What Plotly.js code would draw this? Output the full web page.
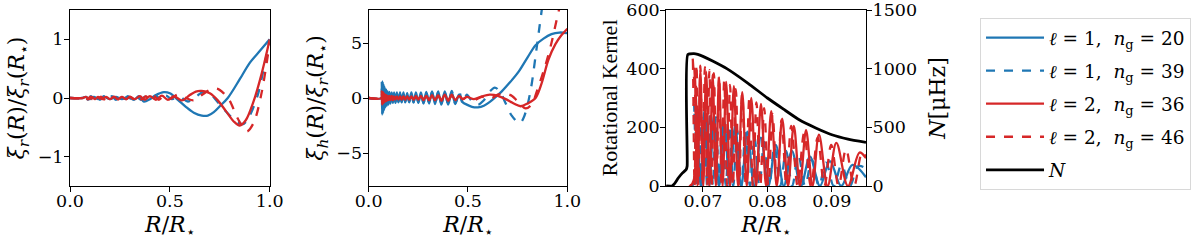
<!DOCTYPE html>
<html><head><meta charset="utf-8">
<script src="https://cdn.plot.ly/plotly-3.0.1.min.js"></script>
<style>html,body{margin:0;padding:0;background:#fff;overflow:hidden;width:1200px;height:242px;}#chart{width:1200px;height:242px;overflow:hidden;}</style>
</head><body><div id="chart"></div>
<script>
// ---------- Panel 1: xi_r(R)/xi_r(R*) ----------
const xr_l1n20_R = [0,0.06,0.08,0.10,0.12,0.14,0.17,0.20,0.23,0.26,0.29,0.32,0.345,0.37,0.40,0.43,0.47,0.50,0.54,0.58,0.62,0.66,0.69,0.72,0.75,0.79,0.85,0.90,0.95,1.0];
const xr_l1n20_V = [0,0.0,0.02,-0.02,0.02,-0.02,0.02,-0.02,0.02,-0.02,0.02,-0.03,0.03,-0.06,-0.02,0.05,0.1,0.08,-0.03,-0.15,-0.25,-0.3,-0.3,-0.24,-0.14,0.0,0.32,0.6,0.8,1.0];

const xr_l1n39_R = [0,0.06,0.075,0.09,0.105,0.12,0.135,0.15,0.17,0.19,0.21,0.23,0.25,0.27,0.29,0.31,0.33,0.355,0.38,0.405,0.43,0.455,0.48,0.51,0.55,0.59,0.63,0.665,0.70,0.73,0.76,0.80,0.84,0.87,0.90,0.94,0.97,1.0];
const xr_l1n39_V = [0,0,0.03,-0.03,0.03,-0.03,0.03,-0.03,0.03,-0.03,0.03,-0.03,0.03,-0.03,0.03,-0.03,0.03,-0.03,0.03,-0.03,0.04,-0.03,0.04,-0.02,0.02,-0.06,0.02,0.1,0.08,-0.03,-0.15,-0.3,-0.42,-0.44,-0.3,0.05,0.5,1.0];

const xr_l2n36_R = [0,0.065,0.08,0.095,0.11,0.125,0.14,0.16,0.18,0.20,0.22,0.24,0.26,0.28,0.30,0.325,0.35,0.375,0.40,0.43,0.46,0.49,0.52,0.56,0.60,0.63,0.66,0.70,0.74,0.78,0.82,0.85,0.88,0.92,0.96,1.0];
const xr_l2n36_V = [0,0,0.02,-0.02,0.02,-0.02,0.02,-0.02,0.02,-0.02,0.02,-0.02,0.02,-0.02,0.02,-0.02,0.03,-0.03,0.03,-0.03,0.04,-0.03,0.03,-0.04,0.05,0.11,0.12,0.08,-0.04,-0.22,-0.4,-0.47,-0.38,-0.05,0.42,1.0];

const xr_l2n46_R = [0,0.065,0.077,0.089,0.101,0.113,0.125,0.14,0.155,0.17,0.185,0.20,0.22,0.24,0.26,0.28,0.30,0.32,0.34,0.36,0.38,0.40,0.42,0.445,0.47,0.50,0.54,0.58,0.62,0.66,0.70,0.735,0.77,0.80,0.84,0.885,0.92,0.96,1.0];
const xr_l2n46_V = [0,0,0.025,-0.025,0.025,-0.025,0.025,-0.025,0.025,-0.025,0.025,-0.025,0.025,-0.025,0.025,-0.025,0.025,-0.025,0.025,-0.025,0.03,-0.03,0.03,-0.03,0.03,-0.02,0.06,0.0,-0.04,0.05,0.14,0.16,0.08,-0.05,-0.35,-0.57,-0.42,0.1,0.95];

// ---------- Panel 2: xi_h(R)/xi_r(R*) ----------
const xh_innerR = [0.000,0.064,0.066,0.068,0.070,0.072,0.074,0.076,0.078,0.080,0.083,0.086,0.089,0.092,0.096,0.100,0.105,0.110,0.116,0.122,0.128,0.135,0.142,0.150,0.158,0.166,0.175,0.184,0.194,0.204,0.215,0.226,0.238,0.250,0.263,0.276,0.290,0.304,0.319,0.334,0.350,0.366,0.383,0.400,0.418,0.436,0.455,0.474,0.494];

const xh_l1n20_innerV = [0,0,1.4,-1.5,1.5,-1.4,1.3,-1.2,1.1,-1.0,0.9,-0.8,0.75,-0.7,0.6,-0.6,0.55,-0.5,0.5,-0.45,0.5,-0.45,0.5,-0.4,0.5,-0.4,0.5,-0.4,0.45,-0.4,0.5,-0.4,0.5,-0.45,0.5,-0.5,0.55,-0.5,0.6,-0.55,0.6,-0.6,0.6,-0.6,0.5,-0.5,0.3,-0.4,-0.6];
const xh_l1n20_outerR = [0.52,0.55,0.58,0.61,0.64,0.67,0.71,0.755,0.80,0.84,0.88,0.92,0.96,1.0];
const xh_l1n20_outerV = [-0.8,-0.85,-0.7,-0.35,0.1,0.6,1.4,2.4,3.7,4.8,5.4,5.8,5.95,5.9];

const xh_l1n39_innerV = [0,0,0.8,-0.9,0.9,-0.8,0.8,-0.7,0.7,-0.6,0.6,-0.5,0.5,-0.45,0.45,-0.4,0.4,-0.35,0.4,-0.35,0.4,-0.35,0.4,-0.35,0.4,-0.35,0.4,-0.35,0.4,-0.35,0.4,-0.4,0.45,-0.4,0.45,-0.45,0.5,-0.45,0.5,-0.5,0.55,-0.5,0.6,-0.55,0.65,-0.55,0.6,-0.5,0.3];
const xh_l1n39_outerR = [0.52,0.55,0.58,0.61,0.635,0.66,0.69,0.72,0.76,0.78,0.80,0.82,0.84,0.86,0.88];
const xh_l1n39_outerV = [-0.3,-0.6,-0.2,0.6,0.95,0.6,-0.5,-1.6,-2.3,-1.8,-0.6,1.2,3.8,6.5,9.2];

const xh_l2n36_innerV = [0,0,0.6,-0.6,0.55,-0.5,0.5,-0.45,0.4,-0.35,0.3,-0.3,0.25,-0.25,0.2,-0.2,0.2,-0.2,0.2,-0.2,0.15,-0.15,0.15,-0.15,0.15,-0.15,0.15,-0.15,0.15,-0.15,0.15,-0.15,0.2,-0.15,0.2,-0.2,0.2,-0.2,0.25,-0.2,0.25,-0.25,0.3,-0.25,0.3,-0.2,0.2,-0.1,0.1];
const xh_l2n36_outerR = [0.53,0.57,0.61,0.65,0.69,0.73,0.765,0.80,0.84,0.87,0.905,0.94,0.97,1.0];
const xh_l2n36_outerV = [-0.1,0.15,0.3,0.2,-0.1,-0.5,-0.75,-0.5,0.0,1.3,3.5,4.9,5.7,6.3];

const xh_l2n46_innerV = [0,0,0.4,-0.4,0.4,-0.35,0.35,-0.3,0.3,-0.25,0.25,-0.2,0.2,-0.2,0.15,-0.15,0.15,-0.15,0.15,-0.15,0.1,-0.15,0.1,-0.1,0.1,-0.1,0.1,-0.1,0.1,-0.1,0.1,-0.1,0.1,-0.1,0.15,-0.1,0.15,-0.15,0.15,-0.15,0.2,-0.15,0.2,-0.2,0.2,-0.15,0.15,-0.1,0.1];
const xh_l2n46_outerR = [0.53,0.57,0.61,0.65,0.69,0.72,0.75,0.79,0.82,0.85,0.89,0.92,0.955,0.98];
const xh_l2n46_outerV = [-0.2,0.1,-0.1,0.3,0.4,0.2,-0.3,-0.95,-0.6,0.8,3.0,5.0,7.8,9.5];

// ---------- Panel 3: rotational kernels and N ----------
const K_l1n20_R = [0.0643,0.0683,0.0690,0.06965,0.0703,0.0710,0.0717,0.0725,0.0733,0.07415,0.0750,0.07595,0.0769,0.07795,0.0790,0.08015,0.0813,0.08255,0.0838,0.0852,0.0866,0.08815,0.0897,0.09145,0.0932,0.0953];
const K_l1n20_V = [0,0,260,0,250,0,240,0,225,0,205,0,185,0,165,0,140,0,120,0,100,0,85,0,72,30];

const K_l1n39_R = [0.0643,0.0682,0.0686,0.0690,0.0694,0.0698,0.0702,0.07065,0.0711,0.07155,0.0720,0.0725,0.0730,0.07355,0.0741,0.0747,0.0753,0.07595,0.0766,0.0773,0.0780,0.07875,0.0795,0.0803,0.0811,0.0820,0.0829,0.08385,0.0848,0.08585,0.0869,0.0880,0.0891,0.0903,0.0915,0.0928,0.0941,0.0953];
const K_l1n39_V = [0,0,280,0,265,0,255,0,245,0,235,0,220,0,205,0,190,0,180,0,165,0,150,0,135,0,120,0,105,0,90,0,80,0,72,0,68,60];

const K_l2n36_R = [0.0643,0.0681,0.0687,0.06915,0.0696,0.07005,0.0705,0.0710,0.0715,0.0720,0.0725,0.07305,0.0736,0.0742,0.0748,0.07545,0.0761,0.0768,0.0775,0.07825,0.0790,0.0798,0.0806,0.08145,0.0823,0.0832,0.0841,0.08505,0.0860,0.0870,0.0880,0.08935,0.0907,0.0925,0.0943,0.0953];
const K_l2n36_V = [0,0,400,0,395,0,390,0,380,0,370,0,355,0,340,0,320,0,300,0,280,0,255,0,230,0,205,0,190,0,175,0,147,0,114,95];

const K_l2n46_R = [0.0643,0.0680,0.0684,0.0687,0.0690,0.0693,0.0696,0.06995,0.0703,0.07065,0.0710,0.07135,0.0717,0.0721,0.0725,0.0729,0.0733,0.07375,0.0742,0.07465,0.0751,0.0756,0.0761,0.07665,0.0772,0.07775,0.0783,0.0789,0.0795,0.08015,0.0808,0.0815,0.0822,0.08295,0.0837,0.0847,0.0857,0.08675,0.0878,0.08885,0.0899,0.09105,0.0922,0.09345,0.0947,0.0953];
const K_l2n46_V = [0,0,445,0,415,0,410,0,405,0,395,0,385,0,375,0,360,0,345,0,330,0,315,0,300,0,285,0,265,0,245,0,225,0,205,0,180,0,165,0,140,0,125,0,115,100];

const N_R = [0.0643,0.0652,0.0656,0.0662,0.0668,0.0674,0.06755,0.06765,0.0686,0.0692,0.0700,0.0715,0.0737,0.0770,0.0800,0.0825,0.0850,0.0875,0.0900,0.0925,0.0953];
const N_uHz = [0,0,20,70,110,140,170,1120,1128,1122,1105,1065,1000,875,750,655,562,495,437,400,372];

// legend labels
const seriesLabels = [
  "<i>ℓ</i> = 1,  <i>n</i><sub>g</sub> = 20",
  "<i>ℓ</i> = 1,  <i>n</i><sub>g</sub> = 39",
  "<i>ℓ</i> = 2,  <i>n</i><sub>g</sub> = 36",
  "<i>ℓ</i> = 2,  <i>n</i><sub>g</sub> = 46",
  "<i>N</i>"
];
const BLUE = '#1f77b4', RED = '#d62728';
const styles = [
  {color: BLUE, dash: 'solid'},
  {color: BLUE, dash: 'dash'},
  {color: RED, dash: 'solid'},
  {color: RED, dash: 'dash'}
];
const LW = 2.3;

const p1 = [[xr_l1n20_R, xr_l1n20_V],[xr_l1n39_R, xr_l1n39_V],[xr_l2n36_R, xr_l2n36_V],[xr_l2n46_R, xr_l2n46_V]];
const p2 = [
  [xh_innerR.concat(xh_l1n20_outerR), xh_l1n20_innerV.concat(xh_l1n20_outerV)],
  [xh_innerR.concat(xh_l1n39_outerR), xh_l1n39_innerV.concat(xh_l1n39_outerV)],
  [xh_innerR.concat(xh_l2n36_outerR), xh_l2n36_innerV.concat(xh_l2n36_outerV)],
  [xh_innerR.concat(xh_l2n46_outerR), xh_l2n46_innerV.concat(xh_l2n46_outerV)]
];
const p3 = [[K_l1n20_R, K_l1n20_V],[K_l1n39_R, K_l1n39_V],[K_l2n36_R, K_l2n36_V],[K_l2n46_R, K_l2n46_V]];

const traces = [];
p1.forEach((d,i)=>traces.push({x:d[0],y:d[1],type:'scatter',mode:'lines',xaxis:'x',yaxis:'y',
  name:seriesLabels[i],showlegend:true,legendgroup:'g'+i,line:{color:styles[i].color,dash:styles[i].dash,width:LW,shape:'spline',smoothing:0.9}}));
p2.forEach((d,i)=>traces.push({x:d[0],y:d[1],type:'scatter',mode:'lines',xaxis:'x2',yaxis:'y2',
  showlegend:false,line:{color:styles[i].color,dash:styles[i].dash,width:LW,shape:'spline',smoothing:0.9}}));
p3.forEach((d,i)=>traces.push({x:d[0],y:d[1],type:'scatter',mode:'lines',xaxis:'x3',yaxis:'y3',
  showlegend:false,line:{color:styles[i].color,dash:styles[i].dash,width:LW,shape:'spline',smoothing:1}}));
traces.push({x:N_R,y:N_uHz,type:'scatter',mode:'lines',xaxis:'x3',yaxis:'y4',name:seriesLabels[4],
  showlegend:true,legendgroup:'g4',line:{color:'#000',width:2.8,shape:'spline',smoothing:0.5}});

const TICKF = {family:'DejaVu Serif', size:17.5, color:'#000'};
const LEGF = {family:'DejaVu Serif', size:18.5, color:'#000'};
const MATHF = {family:'DejaVu Serif', size:22, color:'#000'};
const TEXTF = {family:'Liberation Serif', size:22, color:'#000'};
const axx = (extra)=>Object.assign({showline:true,linecolor:'#000',linewidth:1,mirror:true,ticks:'outside',
  ticklen:5,tickwidth:1,tickcolor:'#000',showgrid:false,zeroline:false,tickfont:TICKF,automargin:false,
  ticklabeloverflow:'allow',ticklabelstandoff:-6},extra);
const axy = (extra)=>Object.assign({showline:true,linecolor:'#000',linewidth:1,mirror:true,ticks:'outside',
  ticklen:5,tickwidth:1,tickcolor:'#000',showgrid:false,zeroline:false,tickfont:TICKF,automargin:false,
  ticklabeloverflow:'allow',ticklabelstandoff:-3},extra);

// plot area: x 70..867 px, y 10..186 px
const layout = {
  width:1200,height:242,margin:{l:70,r:333,t:10,b:56},paper_bgcolor:'#fff',plot_bgcolor:'#fff',
  font:TICKF,
  xaxis: axx({domain:[0,0.2509],range:[0,1],tickvals:[0,0.5,1],ticktext:['0.0','0.5','1.0'],anchor:'y',
    title:{text:'<i>R</i>/<i>R</i><sub>⋆</sub>',font:MATHF,standoff:6}}),
  yaxis: axy({domain:[0,1],range:[-1.5,1.5],tickvals:[-1,0,1],ticktext:['−1','0','1'],anchor:'x',
    title:{text:'<i>ξ</i><sub><i>r</i></sub>(<i>R</i>)/<i>ξ</i><sub><i>r</i></sub>(<i>R</i><sub>⋆</sub>)',font:MATHF,standoff:6}}),
  xaxis2: axx({domain:[0.3752,0.6248],range:[0,1],tickvals:[0,0.5,1],ticktext:['0.0','0.5','1.0'],anchor:'y2',
    title:{text:'<i>R</i>/<i>R</i><sub>⋆</sub>',font:MATHF,standoff:6}}),
  yaxis2: axy({domain:[0,1],range:[-8,8],tickvals:[-5,0,5],ticktext:['−5','0','5'],anchor:'x2',
    title:{text:'<i>ξ</i><sub><i>h</i></sub>(<i>R</i>)/<i>ξ</i><sub><i>r</i></sub>(<i>R</i><sub>⋆</sub>)',font:MATHF,standoff:6}}),
  xaxis3: axx({domain:[0.749,1],range:[0.0643,0.0953],tickvals:[0.07,0.08,0.09],ticktext:['0.07','0.08','0.09'],anchor:'y3',
    title:{text:'<i>R</i>/<i>R</i><sub>⋆</sub>',font:MATHF,standoff:6}}),
  yaxis3: axy({domain:[0,1],range:[0,600],tickvals:[0,200,400,600],anchor:'x3',mirror:false,
    title:{text:'Rotational Kernel',font:TEXTF,standoff:2}}),
  yaxis4: axy({domain:[0,1],range:[0,1500],tickvals:[0,500,1000,1500],overlaying:'y3',side:'right',anchor:'x3',mirror:false,
    title:{text:'<i>N</i>[μHz]',font:MATHF,standoff:13}}),
  legend:{x:1.1418,y:0.954,xanchor:'left',yanchor:'top',bgcolor:'#fff',bordercolor:'#d8d8d8',borderwidth:1,
    font:LEGF,itemwidth:58,tracegroupgap:6,traceorder:'grouped'},
  showlegend:true
};
Plotly.newPlot('chart',traces,layout,{staticPlot:true,displayModeBar:false});
</script></body></html>
